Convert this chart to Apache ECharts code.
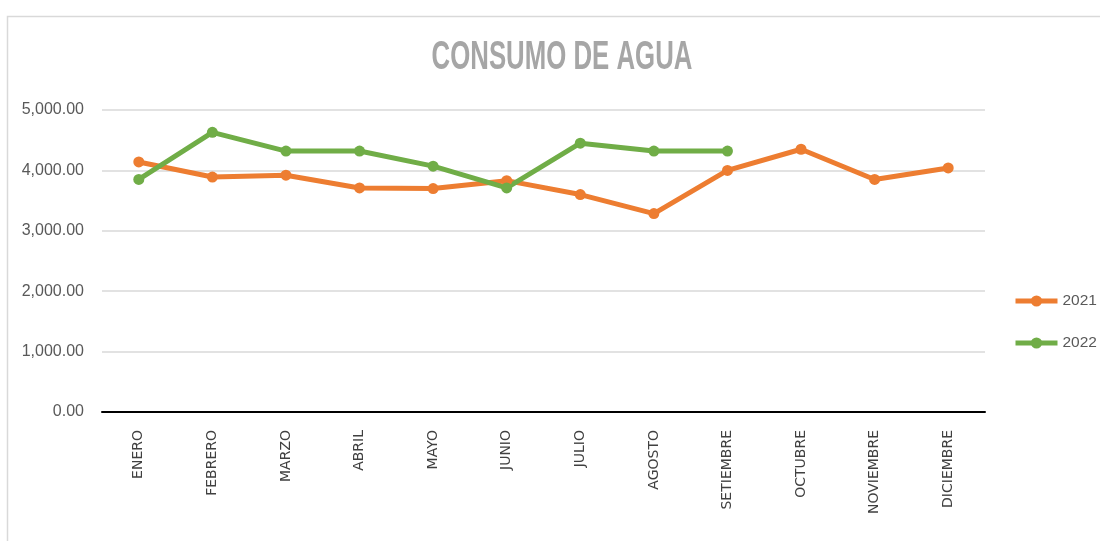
<!DOCTYPE html>
<html><head><meta charset="utf-8">
<script src="https://cdn.jsdelivr.net/npm/echarts@6/dist/echarts.min.js"></script>
<style>html,body{margin:0;padding:0;background:#fff}#c{width:1100px;height:541px}</style>
</head><body><div id="c"></div>
<script>
const categories = ['ENERO','FEBRERO','MARZO','ABRIL','MAYO','JUNIO','JULIO','AGOSTO','SETIEMBRE','OCTUBRE','NOVIEMBRE','DICIEMBRE'];
const values2021 = [4140, 3890, 3920, 3710, 3700, 3830, 3600, 3285, 4000, 4350, 3850, 4040];
const values2022 = [3850, 4630, 4320, 4320, 4070, 3710, 4450, 4320, 4320, null, null, null];
const seriesNames = ['2021', '2022'];
const titleText = 'CONSUMO DE AGUA';

const chart = echarts.init(document.getElementById('c'));
const sans = '"Liberation Sans", Arial, sans-serif';
chart.setOption({
  animation: false,
  backgroundColor: '#fff',
  graphic: [
    {type: 'rect', left: 5, top: 14, shape: {width: 1110, height: 545},
     style: {fill: 'none', stroke: '#d9d9d9', lineWidth: 1.5}, silent: true},
    {type: 'text', x: 562, y: 58, scaleX: 0.645, silent: true,
     style: {text: titleText, fontSize: 40, fontWeight: 'bold', fontFamily: sans,
             fill: '#a6a6a6', align: 'center', verticalAlign: 'middle'}}
  ],
  legend: {
    orient: 'vertical', left: 1013, top: 293, itemGap: 26, padding: 0,
    itemWidth: 42, itemHeight: 14,
    lineStyle: {width: 5},
    textStyle: {fontFamily: sans, fontSize: 15.5, color: '#595959'},
    data: seriesNames
  },
  grid: {left: 102, right: 115, top: 110, bottom: 129},
  xAxis: {
    type: 'category', data: categories, boundaryGap: true,
    axisLine: {lineStyle: {color: '#000', width: 2}},
    axisTick: {show: false},
    axisLabel: {rotate: 90, margin: 18, fontFamily: '"DejaVu Sans", sans-serif', fontSize: 14, color: '#404040', interval: 0}
  },
  yAxis: {
    type: 'value', min: 0, max: 5000, interval: 1000,
    axisLine: {show: false}, axisTick: {show: false},
    splitLine: {lineStyle: {color: '#d9d9d9', width: 1.5}},
    axisLabel: {
      margin: 18, fontFamily: sans, fontSize: 16, color: '#595959',
      formatter: v => v.toLocaleString('en-US', {minimumFractionDigits: 2, maximumFractionDigits: 2})
    }
  },
  series: [
    {name: seriesNames[0], type: 'line', data: values2021, color: '#ED7D31',
     symbol: 'circle', symbolSize: 11, lineStyle: {width: 5}},
    {name: seriesNames[1], type: 'line', data: values2022, color: '#70AD47',
     symbol: 'circle', symbolSize: 11, lineStyle: {width: 5}}
  ]
});
</script></body></html>
